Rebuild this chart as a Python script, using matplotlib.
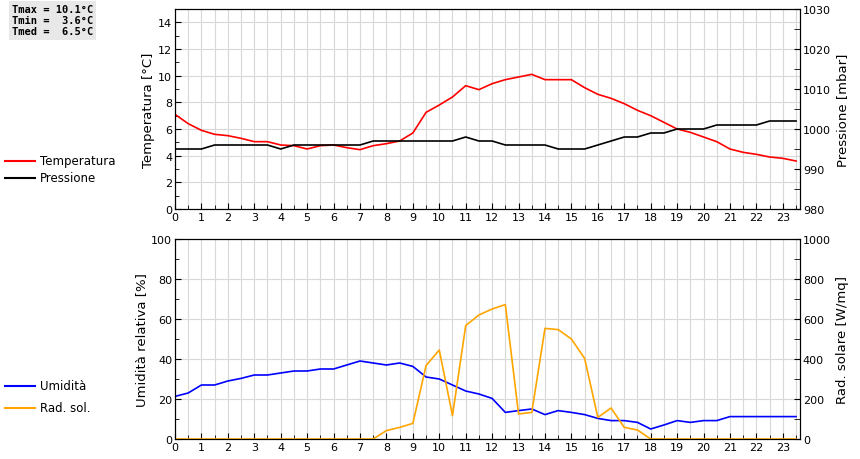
import matplotlib
matplotlib.use("Agg")
import matplotlib.pyplot as plt
import numpy as np
from matplotlib.ticker import MultipleLocator

hours = np.arange(0, 24, 0.5)

temperature = [7.1, 6.4, 5.9, 5.6, 5.5, 5.3, 5.05, 5.05, 4.8, 4.75, 4.5, 4.75,
               4.8, 4.6, 4.45, 4.75, 4.9, 5.1, 5.7, 7.25, 7.8, 8.4, 9.25, 8.95,
               9.4, 9.7, 9.9, 10.1, 9.7, 9.7, 9.7, 9.1, 8.6, 8.3, 7.9, 7.4,
               7.0, 6.5, 6.0, 5.75, 5.4, 5.05, 4.5, 4.25, 4.1, 3.9, 3.8, 3.6]
pressure = [995, 995, 995, 996, 996, 996, 996, 996, 995, 996, 996, 996,
            996, 996, 996, 997, 997, 997, 997, 997, 997, 997, 998, 997,
            997, 996, 996, 996, 996, 995, 995, 995, 996, 997, 998, 998,
            999, 999, 1000, 1000, 1000, 1001, 1001, 1001, 1001, 1002, 1002, 1002]
humidity = [21.3, 23, 27, 27, 29, 30.3, 32, 32, 33, 34, 34, 35,
            35, 37, 39, 38, 37, 38, 36.3, 31, 30, 27, 24, 22.5,
            20.3, 13.3, 14.2, 15, 12.2, 14.2, 13.3, 12.2, 10.3, 9.2, 9.2, 8.3,
            5, 7, 9.2, 8.3, 9.2, 9.2, 11.2, 11.2, 11.2, 11.2, 11.2, 11.2]
solar = [0, 0, 0, 0, 0, 0, 0, 0, 0, 0, 0, 0,
         0, 0, 0, 0, 42, 58, 78, 367, 445, 117, 567, 620,
         650, 672, 125, 133, 553, 547, 500, 403, 108, 155, 58, 45,
         0, 0, 0, 0, 0, 0, 0, 0, 0, 0, 0, 0]

stats_text = "Tmax = 10.1°C\nTmin =  3.6°C\nTmed =  6.5°C"

W, H = 860, 460
fig = plt.figure(figsize=(W / 100, H / 100), dpi=100)
plt.rcParams["font.size"] = 7.5

ax_left, ax_w = 175 / W, 625 / W
ax1 = fig.add_axes([ax_left, 1 - 210 / H, ax_w, 200 / H])
ax3 = fig.add_axes([ax_left, 1 - 440 / H, ax_w, 200 / H])


def style(ax, ymax, ymajor, yminor):
    ax.set_xlim(0, 23.65)
    ax.set_ylim(0, ymax)
    ax.xaxis.set_major_locator(MultipleLocator(1))
    ax.xaxis.set_minor_locator(MultipleLocator(0.5))
    ax.yaxis.set_major_locator(MultipleLocator(ymajor))
    ax.yaxis.set_minor_locator(MultipleLocator(yminor))
    ax.grid(True, which="major", axis="y", color="#d8d8d8", lw=0.8)
    ax.grid(True, which="both", axis="x", color="#d8d8d8", lw=0.8)
    ax.set_axisbelow(True)
    ax.tick_params(which="both", direction="in", length=4, labelsize=8, pad=2)
    ax.tick_params(which="minor", length=3)


style(ax1, 15, 2, 1)
ax1.plot(hours, temperature, color="red", lw=1.2)
ax1.set_ylabel("Temperatura [°C]", fontsize=9.5, labelpad=2)
ax2 = ax1.twinx()
ax2.plot(hours, pressure, color="black", lw=1.2)
ax2.set_ylim(980, 1030)
ax2.yaxis.set_major_locator(MultipleLocator(10))
ax2.yaxis.set_minor_locator(MultipleLocator(5))
ax2.tick_params(which="both", direction="in", length=4, labelsize=8, pad=2)
ax2.set_ylabel("Pressione [mbar]", fontsize=9.5, labelpad=4)

style(ax3, 100, 20, 10)
ax3.plot(hours, humidity, color="blue", lw=1.2)
ax3.set_ylabel("Umidità relativa [%]", fontsize=9.5, labelpad=2)
ax4 = ax3.twinx()
ax4.plot(hours, solar, color="orange", lw=1.2)
ax4.set_ylim(0, 1000)
ax4.yaxis.set_major_locator(MultipleLocator(200))
ax4.yaxis.set_minor_locator(MultipleLocator(100))
ax4.tick_params(which="both", direction="in", length=4, labelsize=8, pad=2)
ax4.set_ylabel("Rad. solare [W/mq]", fontsize=9.5, labelpad=4)

# left-hand legends
for y, color, label in [(162, "red", "Temperatura"), (179, "black", "Pressione"),
                        (387, "blue", "Umidità"), (409, "orange", "Rad. sol.")]:
    fig.add_artist(plt.Line2D([5 / W, 35 / W], [1 - y / H, 1 - y / H], color=color, lw=1.5))
    fig.text(40 / W, 1 - y / H, label, va="center", ha="left", fontsize=8.5)

fig.text(12 / W, 1 - 5 / H, stats_text, va="top", ha="left", family="DejaVu Sans Mono",
         fontsize=7.5, fontweight="bold", linespacing=1.15,
         bbox={"boxstyle": "square,pad=0.3", "fc": "#e8e8e8", "ec": "none"})

fig.savefig("out.png", dpi=100)
